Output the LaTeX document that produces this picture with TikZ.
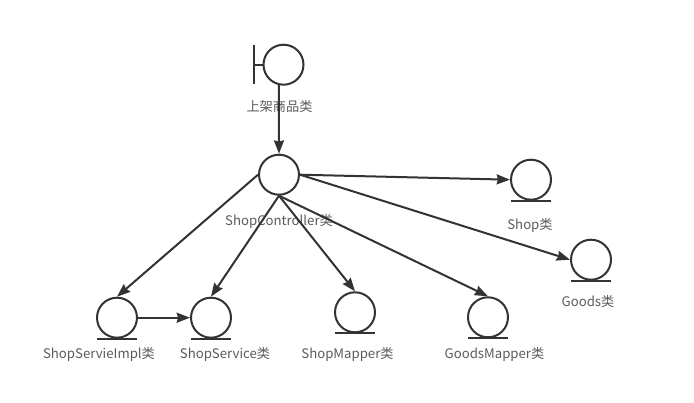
\documentclass[tikz,border=0pt]{standalone}
\usepackage{fontspec}
\setmainfont{Noto Sans CJK SC}
\usetikzlibrary{calc, arrows.meta}
\definecolor{linegray}{HTML}{333333}
\definecolor{textgray}{HTML}{5A5A5A}
\tikzset{
  cls/.style={circle,draw=linegray,line width=1.5pt,minimum size=30pt,inner sep=0pt},
  lbl/.style={text=textgray,font=\fontsize{9.9pt}{11pt}\selectfont,inner sep=0pt},
  bar/.style={linegray,line width=1.5pt},
  arr/.style={linegray,line width=1.5pt,-{Stealth[length=10pt,width=7.5pt,inset=1pt]}}
}
\begin{document}
\begin{tikzpicture}[x=0.75pt,y=-0.75pt]
\useasboundingbox (0,0) rectangle (694,403);
% boundary
\node[cls](bnd)at(283.5,64.7){};
\coordinate(bndTop)at(254,45);
\coordinate(bndBot)at(254,84);
\coordinate(bndMid)at(254,64.7);
\draw[bar](bndTop)--(bndBot);
\draw[bar](bndMid)--(bnd.west);
\node[lbl](bndLbl)at(279.5,106){上架商品类};
% control
\node[cls](ctrl)at(279,174.7){};
\node[lbl](ctrlLbl)at(279,221){ShopController类};
% entities
\foreach \n/\x/\y/\lx/\ly/\t in {
  shop/531/179.7/530/225.5/Shop类,
  goods/591/259.7/588/301/Goods类,
  impl/117/317.7/99/354/ShopServieImpl类,
  service/211/317.7/225/354/ShopService类,
  mapper/355/312.3/347.5/354/ShopMapper类,
  gmapper/488/317.3/494.5/354/GoodsMapper类}
{
  \node[cls](\n)at(\x,\y){};
  \draw[bar]($(\n.south)+(-20,0)$)--++(40,0);
  \node[lbl](\n Lbl)at(\lx,\ly){\t};
}
% connectors
\draw[arr](bnd.-103)--(ctrl.north);
\draw[arr](ctrl.east)--(shop.west);
\draw[arr](ctrl.east)--(goods.west);
\draw[arr](ctrl.west)--(impl.north);
\draw[arr](ctrl.south)--(service.north);
\draw[arr](ctrl.south)--(mapper.north);
\draw[arr](ctrl.south)--(gmapper.north);
\draw[arr](impl.east)--(service.west);
\end{tikzpicture}
\end{document}
